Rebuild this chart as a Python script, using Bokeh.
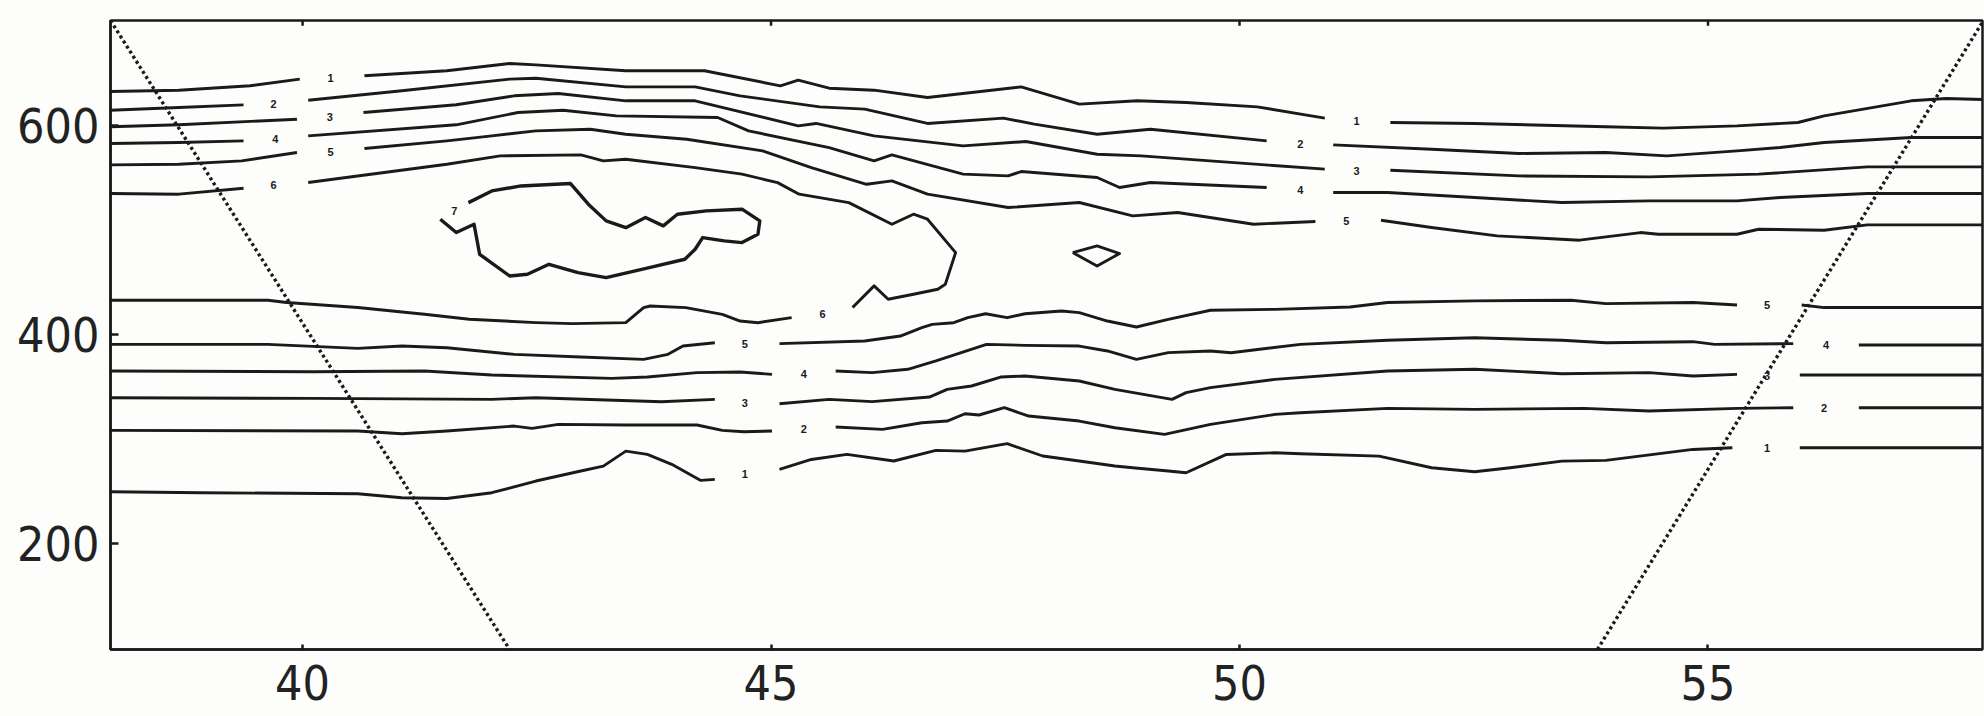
from bokeh.plotting import figure
from bokeh.models import Range1d, FixedTicker
from bokeh.embed import file_html
from bokeh.resources import INLINE
from bokeh.core.properties import value

# ---------------- axes ----------------
x_ticks = [40, 45, 50, 55]
y_ticks = [200, 400, 600]
X_MIN, X_MAX = 37.95, 57.93
Y_MIN, Y_MAX = 98, 701

# ---------------- upper contour group (levels 1..6, level 7 closed) ----------------
u1a_x = [37.95, 38.68, 39.44, 39.97]
u1a_y = [632.9, 634.2, 638.4, 644.8]
u1b_x = [40.66, 41.54, 42.21, 42.49, 43.45, 44.29, 45.10, 45.29, 45.62, 46.10, 46.67, 47.67, 48.29, 48.91, 49.43, 50.19, 50.91]
u1b_y = [648.0, 652.8, 659.8, 658.5, 652.8, 652.8, 638.4, 643.8, 636.1, 634.2, 627.2, 637.4, 620.8, 624.0, 622.4, 618.2, 607.4]
u1c_x = [51.61, 52.51, 53.91, 54.52, 55.31, 55.96, 56.24, 57.17, 57.54, 57.95]
u1c_y = [603.2, 602.3, 599.1, 597.8, 600.0, 603.2, 609.6, 624.0, 626.2, 625.3]

u2a_x = [37.95, 38.68, 39.37]
u2a_y = [615.0, 617.6, 620.1]
u2b_x = [40.06, 41.06, 42.21, 42.49, 43.45, 44.19, 44.67, 45.52, 46.00, 46.67, 47.48, 47.81, 48.48, 49.05, 50.29]
u2b_y = [624.6, 633.6, 644.8, 645.7, 637.4, 637.4, 628.8, 618.2, 616.0, 602.3, 607.4, 601.6, 592.0, 596.8, 585.6]
u2c_x = [51.00, 52.05, 52.98, 53.91, 54.56, 55.31, 55.77, 56.24, 57.17, 57.95]
u2c_y = [581.8, 577.6, 573.5, 574.4, 571.2, 576.0, 579.2, 584.0, 588.8, 588.8]

u3a_x = [37.95, 38.68, 39.94]
u3a_y = [599.1, 601.0, 606.4]
u3b_x = [40.65, 41.64, 42.26, 42.73, 43.45, 44.19, 45.29, 45.48, 46.10, 47.05, 47.72, 48.48, 48.95, 50.91]
u3b_y = [612.8, 620.2, 628.8, 631.0, 624.0, 624.0, 600.0, 602.3, 590.4, 580.8, 585.0, 572.8, 571.2, 558.5]
u3c_x = [51.61, 52.98, 54.37, 55.54, 56.70, 57.95]
u3c_y = [557.5, 552.0, 551.1, 553.7, 560.7, 560.7]

u4a_x = [37.95, 38.68, 39.37]
u4a_y = [583.1, 584.0, 585.6]
u4b_x = [40.06, 41.64, 42.30, 42.78, 43.35, 44.43, 44.76, 45.62, 46.10, 46.29, 47.05, 47.53, 47.67, 48.48, 48.72, 49.05, 50.29]
u4b_y = [590.4, 601.0, 612.8, 615.0, 609.6, 608.0, 595.2, 579.2, 566.4, 572.2, 553.7, 552.0, 556.2, 550.5, 540.9, 545.7, 540.9]
u4c_x = [51.00, 51.58, 52.51, 53.44, 54.37, 55.31, 55.77, 56.70, 57.95]
u4c_y = [536.1, 536.1, 531.3, 526.5, 528.1, 528.1, 531.3, 535.1, 535.1]

u5a_x = [37.95, 38.68, 39.35, 39.94]
u5a_y = [562.6, 563.2, 566.4, 574.4]
u5b_x = [40.66, 41.54, 42.02, 42.49, 43.07, 43.45, 44.10, 44.91, 45.43, 46.02, 46.29, 46.67, 47.53, 48.29, 48.86, 49.34, 50.15, 50.81]
u5b_y = [578.3, 585.6, 590.4, 595.2, 596.8, 592.0, 587.2, 576.0, 560.0, 544.0, 547.2, 534.5, 521.7, 526.5, 513.7, 516.9, 505.7, 508.3]
u5c_x = [51.51, 52.05, 52.75, 53.63, 54.28, 54.47, 55.31, 55.54, 56.24, 56.70, 57.95]
u5c_y = [509.5, 502.5, 494.5, 490.4, 497.7, 496.1, 496.1, 500.9, 499.9, 505.1, 505.1]

u6a_x = [37.95, 38.68, 39.37]
u6a_y = [535.1, 534.5, 540.2]
u6b_x = [40.06, 41.54, 42.11, 42.97, 43.21, 43.45, 44.19, 44.69, 45.07, 45.30, 45.83, 46.29, 46.52, 46.67, 46.97, 46.86, 46.78, 46.52, 46.25, 46.10, 45.87]
u6b_y = [545.7, 563.2, 571.2, 572.2, 566.4, 568.0, 560.0, 553.7, 545.6, 534.5, 526.4, 505.7, 515.3, 510.5, 478.5, 448.1, 443.4, 438.6, 433.8, 446.6, 425.8]
u6c_x = [45.22, 44.86, 44.67, 44.48, 44.09, 43.71, 43.64, 43.45, 42.88, 42.49, 41.78, 41.30, 40.59, 39.83, 39.63, 37.95]
u6c_y = [416.1, 411.3, 412.9, 419.3, 425.7, 427.3, 425.8, 411.4, 410.4, 411.4, 414.6, 419.4, 425.8, 430.6, 432.8, 432.8]

u7_x = [41.77, 42.02, 42.33, 42.86, 43.05, 43.24, 43.45, 43.66, 43.85, 44.00, 44.31, 44.69, 44.88, 44.86, 44.69, 44.50, 44.27, 44.19, 44.08, 43.70, 43.24, 42.94, 42.63, 42.40, 42.21, 41.89, 41.83, 41.64, 41.47]
u7_y = [526.4, 537.6, 542.4, 544.7, 524.9, 508.9, 502.4, 512.1, 504.1, 515.3, 518.5, 520.1, 508.9, 496.1, 488.1, 489.7, 492.9, 481.7, 472.1, 464.1, 454.5, 459.3, 467.3, 457.7, 456.1, 476.9, 505.7, 497.7, 510.5]
u7s_x = [48.22, 48.48, 48.72, 48.48]
u7s_y = [478.5, 484.9, 477.6, 465.7]

# ---------------- lower contour group (levels 1..5) ----------------
l5a_x = [37.95, 39.63, 40.59, 41.06, 41.54, 42.26, 42.97, 43.64, 43.90, 44.06, 44.40]
l5a_y = [390.5, 390.5, 386.7, 388.9, 387.3, 380.9, 378.4, 376.1, 381.0, 389.0, 392.1]
l5b_x = [45.09, 46.00, 46.38, 46.61, 46.72, 46.95, 47.10, 47.29, 47.52, 47.71, 48.10, 48.29, 48.59, 48.90, 49.24, 49.69, 50.38, 51.18, 51.58, 52.51, 53.54, 53.91, 54.84, 55.31]
l5b_y = [391.2, 393.7, 398.5, 406.5, 409.7, 411.3, 416.1, 419.9, 416.1, 419.9, 422.5, 420.9, 412.9, 407.2, 414.5, 423.2, 424.1, 426.3, 430.6, 432.2, 432.8, 429.6, 430.6, 428.3]
l5c_x = [56.00, 56.24, 57.95]
l5c_y = [428.3, 425.8, 425.8]

l4a_x = [37.95, 40.11, 41.30, 42.02, 43.30, 43.68, 44.21, 44.67, 45.01]
l4a_y = [365.0, 364.3, 365.0, 361.1, 357.9, 359.2, 363.4, 364.0, 361.8]
l4b_x = [45.69, 46.08, 46.46, 46.76, 47.03, 47.30, 47.71, 48.29, 48.59, 48.90, 49.24, 49.69, 49.91, 50.65, 51.58, 52.51, 53.44, 53.91, 54.84, 55.07, 55.91]
l4b_y = [365.0, 363.4, 366.6, 374.6, 382.6, 390.5, 389.6, 388.9, 384.2, 376.2, 382.6, 384.2, 382.5, 390.5, 394.4, 396.9, 394.4, 392.1, 393.1, 390.5, 391.2]
l4c_x = [56.61, 57.95]
l4c_y = [389.9, 389.9]

l3a_x = [37.95, 40.11, 42.02, 42.49, 43.83, 44.40]
l3a_y = [339.4, 338.7, 337.8, 339.4, 335.5, 337.8]
l3b_x = [45.09, 45.62, 46.08, 46.69, 46.88, 47.14, 47.45, 47.71, 48.29, 48.67, 49.28, 49.43, 49.69, 50.38, 51.58, 52.51, 53.44, 54.37, 54.84, 55.31]
l3b_y = [333.6, 337.8, 335.6, 340.0, 347.4, 350.6, 359.2, 360.2, 355.4, 347.4, 337.8, 344.2, 349.0, 357.0, 365.0, 366.6, 362.4, 363.4, 360.2, 361.8]
l3c_x = [55.98, 57.95]
l3c_y = [361.1, 361.1]

l2a_x = [37.95, 40.59, 41.06, 41.54, 42.26, 42.45, 42.73, 43.45, 44.21, 44.48, 44.71, 45.01]
l2a_y = [308.1, 307.4, 304.9, 307.4, 312.2, 310.0, 313.8, 313.2, 313.2, 308.1, 306.8, 307.4]
l2b_x = [45.69, 46.19, 46.61, 46.88, 47.07, 47.22, 47.49, 47.75, 48.29, 48.67, 49.20, 49.69, 50.38, 50.65, 51.58, 52.51, 53.68, 54.37, 55.31, 55.91]
l2b_y = [311.3, 309.0, 315.4, 317.0, 324.0, 322.8, 329.8, 321.8, 317.0, 310.6, 304.2, 313.8, 323.4, 325.0, 329.2, 328.2, 329.2, 326.6, 329.2, 329.8]
l2c_x = [56.61, 57.95]
l2c_y = [329.8, 329.8]

l1a_x = [37.95, 38.92, 40.59, 41.06, 41.54, 42.02, 42.49, 42.97, 43.21, 43.45, 43.68, 43.94, 44.25, 44.40]
l1a_y = [249.2, 248.3, 247.3, 243.5, 242.8, 248.3, 259.5, 269.1, 273.8, 288.2, 285.0, 275.5, 260.1, 261.1]
l1b_x = [45.09, 45.43, 45.81, 46.31, 46.76, 47.07, 47.52, 47.90, 48.29, 48.67, 48.86, 49.24, 49.43, 49.86, 50.38, 50.65, 51.49, 52.05, 52.51, 52.89, 53.44, 53.91, 54.84, 55.26]
l1b_y = [270.7, 280.2, 285.0, 278.7, 288.9, 288.2, 295.3, 283.5, 278.7, 273.9, 272.3, 269.1, 267.4, 285.0, 286.6, 285.7, 283.4, 272.2, 268.4, 272.2, 278.6, 279.3, 289.8, 291.4]
l1c_x = [55.98, 57.95]
l1c_y = [291.4, 291.4]

# ---------------- contour labels ----------------
lab_text = ["1", "2", "3", "4", "5", "6", "1", "2", "3", "4", "5", "7", "6",
            "5", "4", "3", "2", "1", "5", "4", "3", "2", "1"]
lab_x = [40.30, 39.69, 40.29, 39.71, 40.30, 39.69, 51.25, 50.65, 51.25, 50.65, 51.14, 41.62, 45.55,
         44.72, 45.35, 44.72, 45.35, 44.72, 55.63, 56.26, 55.63, 56.24, 55.63]
lab_y = [646.0, 621.0, 608.6, 587.0, 575.0, 543.0, 604.8, 582.4, 556.9, 538.3, 509.0, 518.5, 420.0,
         391.2, 362.4, 334.6, 309.0, 265.9, 428.3, 389.9, 360.2, 329.8, 291.4]

# ---------------- dotted track boundaries ----------------
trk_l_x = [37.95, 42.21]
trk_l_y = [701.0, 98.0]
trk_r_x = [53.82, 57.94]
trk_r_y = [98.0, 701.0]

BG = "#fdfdfb"
INK = "#1a1a1a"
TICK_FONT = "'DejaVu Sans Condensed', 'Liberation Sans', sans-serif"
LW = 2.9

p = figure(width=1984, height=716,
           x_range=Range1d(X_MIN, X_MAX), y_range=Range1d(Y_MIN, Y_MAX),
           output_backend="svg", toolbar_location=None,
           min_border_left=110, min_border_right=2,
           min_border_top=20, min_border_bottom=67)
p.xgrid.visible = False
p.ygrid.visible = False
p.background_fill_color = BG
p.border_fill_color = BG
p.outline_line_color = INK
p.outline_line_width = 2.5

for ax in (p.xaxis[0], p.yaxis[0]):
    ax.major_tick_in = 8
    ax.major_tick_out = 0
    ax.minor_tick_in = 0
    ax.minor_tick_out = 0
    ax.axis_line_width = 2.5
    ax.axis_line_color = INK
    ax.major_tick_line_width = 2.5
    ax.major_tick_line_color = INK
    ax.major_label_text_font = TICK_FONT
    ax.major_label_text_font_size = "48px"
    ax.major_label_text_color = "#222222"

p.xaxis[0].ticker = FixedTicker(ticks=x_ticks)
p.xaxis[0].major_tick_in = 5
p.xaxis[0].major_label_standoff = 15
p.yaxis[0].ticker = FixedTicker(ticks=y_ticks)
p.yaxis[0].major_label_standoff = 11

# small inward tick marks on the top frame edge
p.segment(x0=x_ticks, y0=[Y_MAX] * len(x_ticks), x1=x_ticks, y1=[Y_MAX - 5] * len(x_ticks),
          line_color=INK, line_width=2.5)

segments = [
    (u1a_x, u1a_y), (u1b_x, u1b_y), (u1c_x, u1c_y),
    (u2a_x, u2a_y), (u2b_x, u2b_y), (u2c_x, u2c_y),
    (u3a_x, u3a_y), (u3b_x, u3b_y), (u3c_x, u3c_y),
    (u4a_x, u4a_y), (u4b_x, u4b_y), (u4c_x, u4c_y),
    (u5a_x, u5a_y), (u5b_x, u5b_y), (u5c_x, u5c_y),
    (u6a_x, u6a_y), (u6b_x, u6b_y), (u6c_x, u6c_y),
    (l5a_x, l5a_y), (l5b_x, l5b_y), (l5c_x, l5c_y),
    (l4a_x, l4a_y), (l4b_x, l4b_y), (l4c_x, l4c_y),
    (l3a_x, l3a_y), (l3b_x, l3b_y), (l3c_x, l3c_y),
    (l2a_x, l2a_y), (l2b_x, l2b_y), (l2c_x, l2c_y),
    (l1a_x, l1a_y), (l1b_x, l1b_y), (l1c_x, l1c_y),
]
for sx, sy in segments:
    p.line(sx, sy, line_color=INK, line_width=LW, line_join="round")

# level-7 contours (the big one is open at its label)
p.line(u7_x, u7_y, line_color=INK, line_width=3.4, line_join="round")
p.line(u7s_x + u7s_x[:1], u7s_y + u7s_y[:1], line_color=INK, line_width=LW, line_join="round")

# dotted boundaries
p.line(trk_l_x, trk_l_y, line_color=INK, line_width=3.4, line_dash="3 3")
p.line(trk_r_x, trk_r_y, line_color=INK, line_width=3.4, line_dash="3 3")

p.text(x=lab_x, y=lab_y, text=lab_text, text_font=value("Liberation Sans"),
       text_font_size="11px", text_font_style="bold", text_color=INK,
       text_align="center", text_baseline="middle")

open("out.html", "w").write(file_html(p, INLINE))
